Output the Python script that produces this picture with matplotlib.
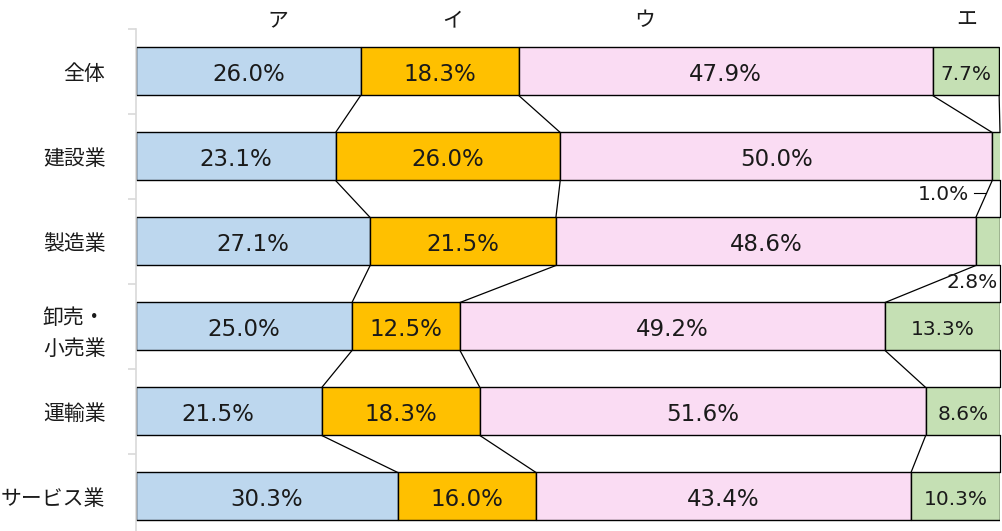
import matplotlib
matplotlib.use("Agg")
import matplotlib.pyplot as plt
import numpy as np

# data
categories = ["全体", "建設業", "製造業", "卸売・\n小売業", "運輸業", "サービス業"]
series_names = ["ア", "イ", "ウ", "エ"]
val_a = [26.0, 23.1, 27.1, 25.0, 21.5, 30.3]
val_i = [18.3, 26.0, 21.5, 12.5, 18.3, 16.0]
val_u = [47.9, 50.0, 48.6, 49.2, 51.6, 43.4]
val_e = [7.7, 1.0, 2.8, 13.3, 8.6, 10.3]
header_x = [16.4, 36.6, 58.9, 96.2]

colors = ["#BDD7EE", "#FFC000", "#FADCF3", "#C5E0B4"]
jp = ["Noto Sans CJK JP", "DejaVu Sans"]
txt_color = "#1a1a1a"

fig = plt.figure(figsize=(10.02, 5.31), dpi=100)
ax = fig.add_axes([136 / 1002, 1 - 539 / 531, 864 / 1002, 510 / 531])

data = np.array([val_a, val_i, val_u, val_e])
y = np.arange(len(categories))
bar_h = 48 / 85
left = np.zeros(len(categories))
bounds = []
for k in range(4):
    ax.barh(y, data[k], left=left, height=bar_h, color=colors[k],
            edgecolor="black", linewidth=1.0, zorder=2)
    for j in range(len(categories)):
        v = data[k][j]
        cx = left[j] + v / 2
        cy = y[j]
        if k == 3:
            fs = 14.5
            if v < 2:
                # small segment: label outside with a short leader
                ax.text(93.5, cy + 0.45, f"{v:.1f}%", ha="center", va="center",
                        fontsize=fs, family="DejaVu Sans", color=txt_color)
                ax.plot([97.0, 98.4], [cy + 0.43, cy + 0.43], color="black", lw=0.8)
                continue
            if v < 5:
                ax.text(96.8, cy + 0.48, f"{v:.1f}%", ha="center", va="center",
                        fontsize=fs, family="DejaVu Sans", color=txt_color, zorder=3)
                continue
        else:
            fs = 16.5
        if k == 0 and j == 4:
            cx -= 1.3
        ax.text(cx, cy + 0.04, f"{v:.1f}%", ha="center", va="center",
                fontsize=fs, family="DejaVu Sans", color=txt_color, zorder=3)
    left = left + data[k]
    bounds.append(left.copy())

# series lines between bars
for b in bounds:
    b = np.minimum(b, 100)
    for j in range(len(categories) - 1):
        ax.plot([b[j], b[j + 1]], [y[j] + bar_h / 2, y[j + 1] - bar_h / 2],
                color="black", lw=0.9, zorder=1, clip_on=False)

for name, hx in zip(series_names, header_x):
    ax.text(hx, 1 + 9 / 510, name, transform=ax.get_xaxis_transform(), ha="center",
            va="center", fontsize=15, family=jp, color=txt_color)

ax.set_xlim(0, 100)
ax.set_ylim(len(categories) - 0.5, -0.5)
ax.set_yticks(y)
ax.set_yticklabels(categories, family=jp, fontsize=15, color=txt_color,
                   linespacing=1.5)
ax.set_yticks(np.arange(-0.5, len(categories), 1.0), minor=True)
ax.tick_params(axis="y", which="major", length=0, pad=22)
ax.tick_params(axis="y", which="minor", length=6, color="#D9D9D9", width=1.2)
ax.set_xticks([])
for s in ["top", "right", "bottom"]:
    ax.spines[s].set_visible(False)
ax.spines["left"].set_color("#D9D9D9")
ax.spines["left"].set_linewidth(1.2)

fig.savefig("out.png", dpi=100)
